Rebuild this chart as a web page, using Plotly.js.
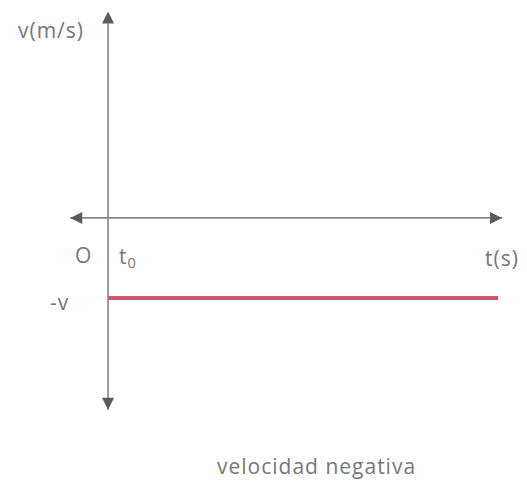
<!DOCTYPE html>
<html>
<head>
<meta charset="utf-8">
<script src="https://cdn.plot.ly/plotly-3.0.1.min.js"></script>
<style>
  html, body { margin: 0; padding: 0; background: #fff; }
  #chart { width: 527px; height: 481px; }
  .annotation-text { letter-spacing: 1px; }
</style>
</head>
<body>
<div id="chart"></div>
<script>
// Constant negative velocity: v(t) = -v from t0 onwards
const tValues = [0, 10];          // time, from t0 to the end of the plotted interval
const vValues = [-1, -1];         // velocity, constant at -v
const tickOrigin = "O";
const tickT0 = "t<sub>0</sub>";
const tickV = "-v";
const axisLabelT = "t(s)";
const axisLabelV = "v(m/s)";
const caption = "velocidad negativa";

// Extents of the drawn axis arrows (in axis units)
const tAxisFrom = -0.97, tAxisTo = 10.1;
const vAxisFrom = -2.4, vAxisTo = 2.58;

const textFont = { family: "Open Sans, sans-serif", size: 21, color: "#777777" };
const axisLine = { color: "#858585", width: 1.6 };
const arrowMarker = (symbols) => ({ symbol: symbols, size: 12, color: "#5a5a5a", line: { width: 0 } });

const traces = [
  // horizontal (time) axis, arrow at both ends
  {
    x: [tAxisFrom, tAxisTo], y: [0, 0],
    type: "scatter", mode: "lines+markers",
    line: axisLine, marker: arrowMarker(["arrow-left", "arrow-right"]),
    cliponaxis: false, hoverinfo: "skip", showlegend: false
  },
  // vertical (velocity) axis, arrow at both ends
  {
    x: [0, 0], y: [vAxisFrom, vAxisTo],
    type: "scatter", mode: "lines+markers",
    line: axisLine, marker: arrowMarker(["arrow-down", "arrow-up"]),
    cliponaxis: false, hoverinfo: "skip", showlegend: false
  },
  // velocity against time
  {
    x: tValues, y: vValues,
    type: "scatter", mode: "lines",
    line: { color: "#d4566c", width: 4 },
    hoverinfo: "skip", showlegend: false
  }
];

function label(text, x, y, xanchor, xshift, yshift) {
  return {
    text: text, x: x, y: y, xref: "x", yref: "y",
    xanchor: xanchor, yanchor: "middle",
    xshift: xshift, yshift: yshift,
    showarrow: false, font: textFont
  };
}

const layout = {
  width: 527, height: 481,
  margin: { l: 0, r: 0, t: 0, b: 0 },
  paper_bgcolor: "#ffffff", plot_bgcolor: "#ffffff",
  showlegend: false,
  xaxis: { range: [-2.77, 10.74], visible: false, fixedrange: true },
  yaxis: { range: [-3.29, 2.725], visible: false, fixedrange: true },
  annotations: [
    label(tickOrigin, 0, 0, "center", -25, -37),
    label(tickT0, tValues[0], 0, "left", 9, -39),
    label(tickV, 0, vValues[0], "right", -37, -4),
    label(axisLabelT, tAxisTo, 0, "center", 0, -40),
    label(axisLabelV, 0, vAxisTo, "right", -22, -18),
    {
      text: caption, xref: "paper", yref: "paper",
      x: 0.6, y: 0.032, xanchor: "center", yanchor: "middle",
      showarrow: false, font: textFont
    }
  ]
};

Plotly.newPlot("chart", traces, layout, { staticPlot: true, displayModeBar: false })
  .then((gd) => {
    // drop empty placeholder text nodes left by the hidden axes and title
    gd.querySelectorAll("text").forEach((t) => {
      if (!t.textContent.trim()) t.remove();
    });
  });
</script>
</body>
</html>
